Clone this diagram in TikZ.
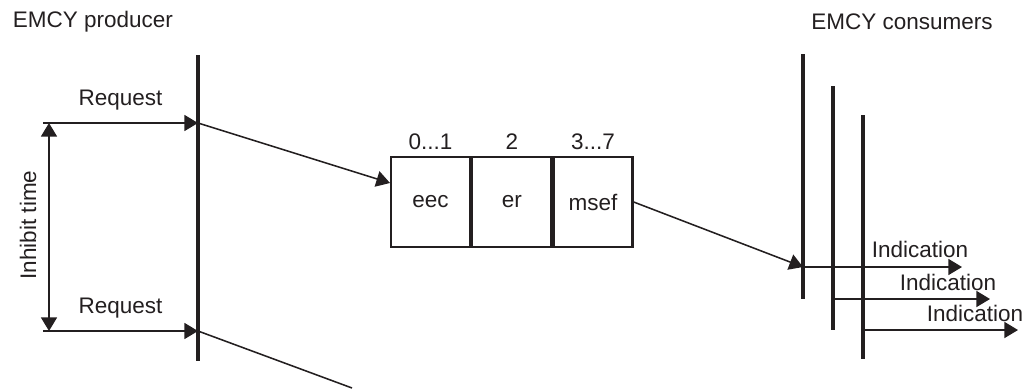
\documentclass[tikz,border=0pt]{standalone}
\usepackage{fontspec}
\setmainfont{Liberation Sans}
\usetikzlibrary{arrows.meta, positioning}
\definecolor{ink}{HTML}{231F20}

\begin{document}
\begin{tikzpicture}[
  x=0.025cm, y=-0.025cm,
  every node/.style={font=\fontsize{16}{19}\selectfont, text=ink},
  lifeline/.style={draw=ink, line width=2.2pt},
  msg/.style={draw=ink, line width=1.1pt, -{Triangle[length=0.34cm, width=0.4cm]}},
  cell/.style={draw=ink, line width=1.6pt, minimum width=1.975cm, minimum height=2.25cm, inner sep=0pt}
]
\useasboundingbox (0,0) rectangle (1024,388);

% producer side
\node[anchor=west] (prodname) at (8,22) {EMCY producer};
\coordinate (prodtop) at (198,55);
\coordinate (prodbot) at (198,361);
\coordinate (req1) at (198,123);
\coordinate (req2) at (198,331);
\coordinate (start1) at (43,123);
\coordinate (start2) at (43,331);
\coordinate (inhtop) at (49,123);
\coordinate (inhbot) at (49,331);
\coordinate (away) at (352,388);

\draw[lifeline] (prodtop) -- (prodbot);
\draw[msg] (start1) -- node[above=5pt] (reqlbl1) {Request} (req1);
\draw[msg] (start2) -- node[above=5pt] (reqlbl2) {Request} (req2);
\draw[draw=ink, line width=1.1pt, {Triangle[length=0.34cm, width=0.4cm]}-{Triangle[length=0.34cm, width=0.4cm]}] (inhtop) -- (inhbot);
\node[rotate=90] (inhlbl) at (28,225) {Inhibit time};

% EMCY message
\node[cell] (eec) at (430.5,202) {eec};
\node[cell, right=0pt of eec] (er) {er};
\node[cell, right=0pt of er] (msef) {msef};
\node[above=1pt of eec] (b01) {0...1};
\node[above=1pt of er] (b2) {2};
\node[above=1pt of msef] (b37) {3...7};
\coordinate (boxin) at (390,183);

\draw[msg] (req1) -- (boxin);
\draw[draw=ink, line width=1.1pt] (req2) -- (away);

% consumer side
\node (consname) at (902,22) {EMCY consumers};
\coordinate (c1top) at (803,54);
\coordinate (c1bot) at (803,299);
\coordinate (c2top) at (833,86);
\coordinate (c2bot) at (833,330);
\coordinate (c3top) at (863,115);
\coordinate (c3bot) at (863,359);
\coordinate (ind1) at (803,267);
\coordinate (ind2) at (833,299);
\coordinate (ind3) at (863,330);
\coordinate (out1) at (962,267);
\coordinate (out2) at (990,299);
\coordinate (out3) at (1018,330);

\draw[lifeline] (c1top) -- (c1bot);
\draw[lifeline] (c2top) -- (c2bot);
\draw[lifeline] (c3top) -- (c3bot);
\draw[msg] (msef.east) -- (ind1);
\draw[msg] (ind1) -- (out1);
\draw[msg] (ind2) -- (out2);
\draw[msg] (ind3) -- (out3);
\node (indlbl1) at (920,249) {Indication};
\node (indlbl2) at (948,282) {Indication};
\node (indlbl3) at (975,313) {Indication};
\end{tikzpicture}
\end{document}
